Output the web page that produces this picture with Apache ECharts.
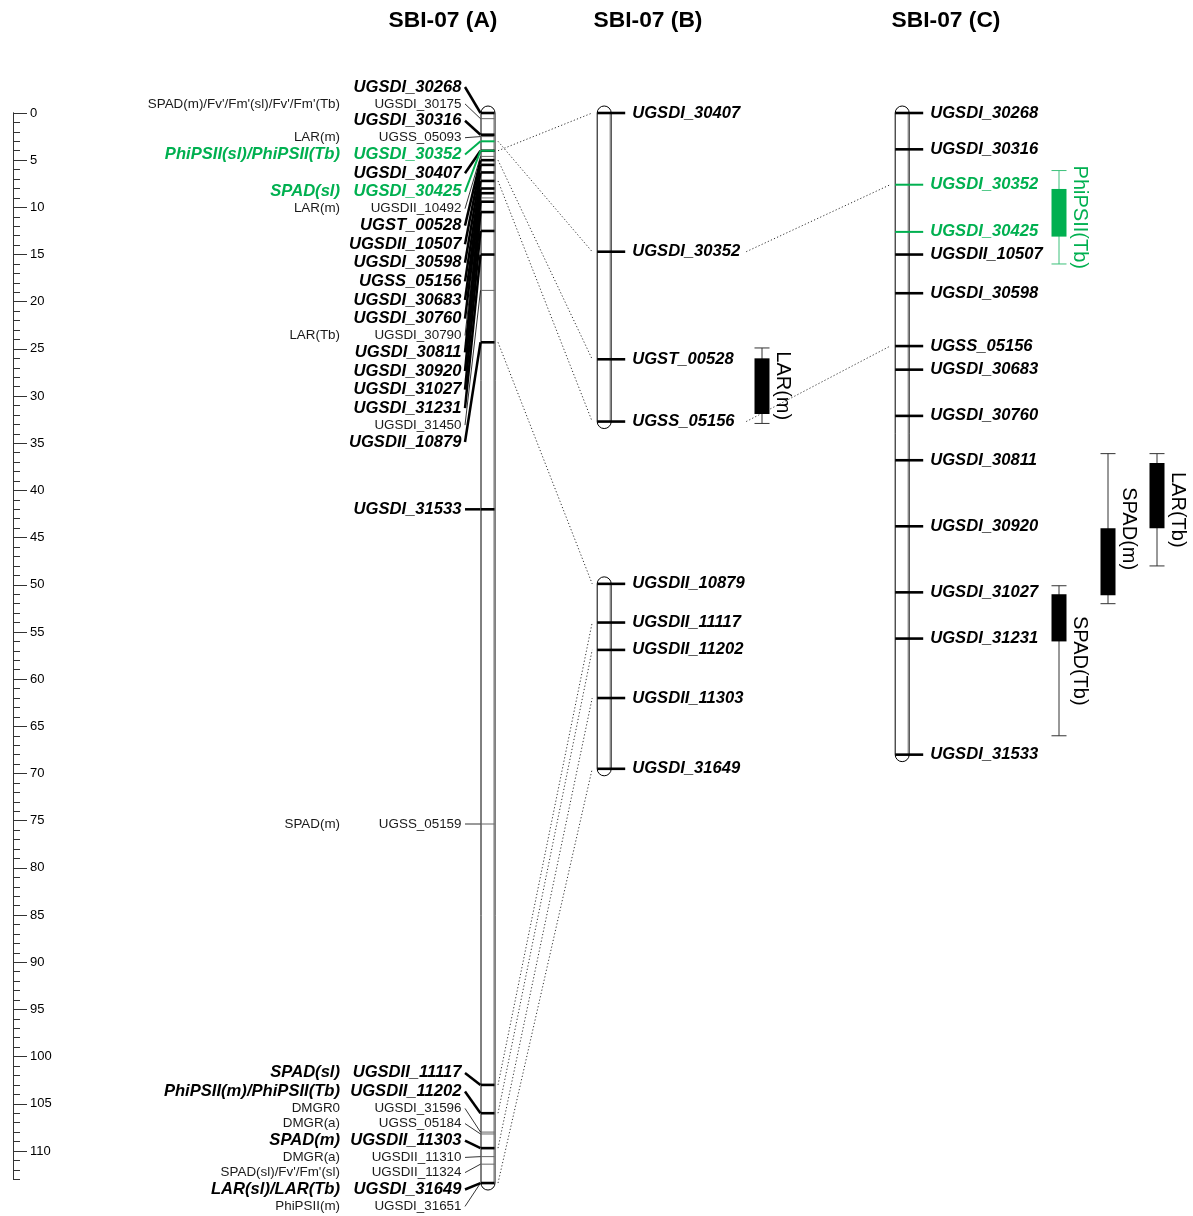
<!DOCTYPE html>
<html><head><meta charset="utf-8">
<script src="https://cdn.jsdelivr.net/npm/echarts@6/dist/echarts.min.js"></script>
<style>html,body{margin:0;padding:0;background:#fff}#c{width:1193px;height:1216px}</style>
</head><body><div id="c"></div>
<script>
// ================= DATA =================
const titles = ['SBI-07 (A)', 'SBI-07 (B)', 'SBI-07 (C)'];

// Chromosome A (cM)
const aMarkers = ['UGSDI_30268','UGSDI_30175','UGSDI_30316','UGSS_05093','UGSDI_30352','UGSDI_30407','UGSDI_30425','UGSDII_10492','UGST_00528','UGSDII_10507','UGSDI_30598','UGSS_05156','UGSDI_30683','UGSDI_30760','UGSDI_30790','UGSDI_30811','UGSDI_30920','UGSDI_31027','UGSDI_31231','UGSDI_31450','UGSDII_10879','UGSDI_31533','UGSS_05159','UGSDII_11117','UGSDII_11202','UGSDI_31596','UGSS_05184','UGSDII_11303','UGSDII_11310','UGSDII_11324','UGSDI_31649','UGSDI_31651'];
const aPos = [0.0,0.6,2.3,2.5,3.0,4.0,4.0,4.6,5.0,5.5,6.3,7.2,8.0,8.5,9.0,9.4,10.5,12.5,15.0,18.8,24.3,42.0,75.35,103.0,106.0,108.0,108.2,109.7,110.6,111.4,113.4,113.4];
const aTraits = ['',"SPAD(m)/Fv'/Fm'(sl)/Fv'/Fm'(Tb)",'','LAR(m)','PhiPSII(sl)/PhiPSII(Tb)','','SPAD(sl)','LAR(m)','','','','','','','LAR(Tb)','','','','','','','','SPAD(m)','SPAD(sl)','PhiPSII(m)/PhiPSII(Tb)','DMGR0','DMGR(a)','SPAD(m)','DMGR(a)',"SPAD(sl)/Fv'/Fm'(sl)",'LAR(sl)/LAR(Tb)','PhiPSII(m)'];

// Chromosome B (two linkage segments)
const bMarkers = ['UGSDI_30407','UGSDI_30352','UGST_00528','UGSS_05156','UGSDII_10879','UGSDII_11117','UGSDII_11202','UGSDII_11303','UGSDI_31649'];
const bPos = [0, 14.7, 26.1, 32.7, 49.9, 54.0, 56.9, 62.0, 69.5];
const bSegments = [[0, 3], [4, 8]];

// Chromosome C
const cMarkers = ['UGSDI_30268','UGSDI_30316','UGSDI_30352','UGSDI_30425','UGSDII_10507','UGSDI_30598','UGSS_05156','UGSDI_30683','UGSDI_30760','UGSDI_30811','UGSDI_30920','UGSDI_31027','UGSDI_31231','UGSDI_31533'];
const cPos = [0, 3.85, 7.6, 12.6, 15.0, 19.1, 24.7, 27.2, 32.1, 36.8, 43.8, 50.8, 55.7, 68.0];

// Homologous marker links
const linksAB = ['UGSDI_30407','UGSDI_30352','UGST_00528','UGSS_05156','UGSDII_10879','UGSDII_11117','UGSDII_11202','UGSDII_11303','UGSDI_31649'];
const linksBC = ['UGSDI_30352','UGSS_05156'];

// QTL intervals (cM): whisker low, box low, box high, whisker high
const qtlNames   = ['LAR(m)', 'PhiPSII(Tb)', 'SPAD(Tb)', 'SPAD(m)', 'LAR(Tb)'];
const qtlLow     = [24.9, 6.1, 50.1, 36.1, 36.1];
const qtlBoxLow  = [26.0, 8.05, 51.0, 44.0, 37.1];
const qtlBoxHigh = [31.9, 13.1, 56.0, 51.1, 44.0];
const qtlHigh    = [32.9, 16.0, 66.0, 52.0, 48.0];

// ================= STYLE / LAYOUT =================
// marker styles: b = bold significant, t = thin, g = green highlighted
const aStyle = ['b','t','b','t','g','b','g','t','b','b','b','b','b','b','t','b','b','b','b','t','b','b','t','b','b','t','t','b','t','t','b','t'];
const bStyle = ['b','b','b','b','b','b','b','b','b'];
const cStyle = ['b','b','g','g','b','b','b','b','b','b','b','b','b','b'];
const qtlColorKey = ['k','g','k','k','k'];
const qtlX = [762, 1059, 1059, 1108, 1157];
const PX = 9.436, Y0 = 113, W = 1193, Hh = 1216;
const xA = 488, xB = 604.2, xC = 902.2;
const titleX = [443, 648, 946];
const labelGroups = [{first: 0, last: 20, shift: -26}, {first: 23, last: 31, shift: -12}];
const GREEN = '#00b050';
const FONT = '"Liberation Sans", Arial, Helvetica, sans-serif';
const LH = {b: 18.6, g: 18.6, t: 15.2};

const labelOffset = aPos.map(() => null);
labelGroups.forEach(g => {
  let off = 0;
  for (let i = g.first; i <= g.last; i++) {
    if (i > g.first) off += (LH[aStyle[i - 1]] + LH[aStyle[i]]) / 2;
    labelOffset[i] = {g: g, off: off};
  }
});

function colorOf(s) { return s === 'g' ? GREEN : (s === 't' ? '#1a1a1a' : '#000'); }
function fontOf(s) {
  return s === 't' ? {fontSize: 13.4, fontWeight: 'normal', fontStyle: 'normal'}
                   : {fontSize: 16.6, fontWeight: 'bold', fontStyle: 'italic'};
}
function line(x1, y1, x2, y2, stroke, w, dash) {
  return {type: 'line', shape: {x1, y1, x2, y2}, style: {stroke, lineWidth: w, lineDash: dash || null, fill: null}};
}
function text(t, x, y, align, s, extra) {
  return {type: 'text', style: Object.assign({text: t, x, y, align, verticalAlign: 'middle', fontFamily: FONT, fill: colorOf(s)}, fontOf(s), extra || {})};
}

// ---- series data built from arrays ----
const chromData = [
  [xA, aPos[0], aPos[aPos.length - 1]],
  ...bSegments.map(s => [xB, bPos[s[0]], bPos[s[1]]]),
  [xC, cPos[0], cPos[cPos.length - 1]]
];
const styleCode = {b: 0, t: 1, g: 2};
const tickData = [];
aPos.forEach((p, i) => tickData.push([xA, p, styleCode[aStyle[i]], 0]));
bPos.forEach((p, i) => tickData.push([xB, p, styleCode[bStyle[i]], 1]));
cPos.forEach((p, i) => tickData.push([xC, p, styleCode[cStyle[i]], 1]));
tickData.sort((u, v) => [1, 0, 2].indexOf(u[2]) - [1, 0, 2].indexOf(v[2]));

const aLabelData = aPos.map((p, i) => [xA, p, i]);
const bcLabelData = bPos.map((p, i) => [xB, p, i, 1]).concat(cPos.map((p, i) => [xC, p, i, 2]));

const linkData = linksAB.map(n => [xA + 10, aPos[aMarkers.indexOf(n)], xB - 12, bPos[bMarkers.indexOf(n)]])
  .concat(linksBC.map(n => [xB + 142, bPos[bMarkers.indexOf(n)], xC - 12, cPos[cMarkers.indexOf(n)]]));

const qtlData = qtlNames.map((n, i) => [qtlX[i], qtlLow[i], qtlBoxLow[i], qtlBoxHigh[i], qtlHigh[i], i]);

// ================= CHART =================
const chart = echarts.init(document.getElementById('c'), null, {renderer: 'canvas'});
const axisColor = '#333';
const option = {
  animation: false,
  backgroundColor: '#fff',
  grid: [
    {left: 0, top: 0, width: W, height: Hh, outerBoundsMode: 'none'},
    {left: 13, top: Y0, width: 40, height: 110 * PX, outerBoundsMode: 'none'},
    {left: 13, top: Y0, width: 40, height: 113 * PX, outerBoundsMode: 'none'}
  ],
  xAxis: [
    {gridIndex: 0, type: 'value', min: 0, max: W, show: false},
    {gridIndex: 1, type: 'value', min: 0, max: 1, show: false},
    {gridIndex: 2, type: 'value', min: 0, max: 1, show: false}
  ],
  yAxis: [
    {gridIndex: 0, type: 'value', min: -Y0 / PX, max: (Hh - Y0) / PX, inverse: true, show: false},
    {gridIndex: 1, type: 'value', min: 0, max: 110, interval: 5, inverse: true, position: 'left',
      axisLine: {show: true, lineStyle: {color: axisColor, width: 1}},
      axisTick: {show: true, inside: true, length: 14, lineStyle: {color: axisColor, width: 1}},
      axisLabel: {show: true, inside: true, margin: 17, fontSize: 13, color: '#000', fontFamily: FONT},
      splitLine: {show: false}},
    {gridIndex: 2, type: 'value', min: 0, max: 113, interval: 1, inverse: true, position: 'left',
      axisLine: {show: true, lineStyle: {color: axisColor, width: 1}},
      axisTick: {show: true, inside: true, length: 7, lineStyle: {color: axisColor, width: 1}},
      axisLabel: {show: false}, splitLine: {show: false}}
  ],
  graphic: titles.map((t, i) => ({
    type: 'text', x: titleX[i], y: 21,
    style: {text: t, align: 'center', verticalAlign: 'middle', fontSize: 22.8, fontWeight: 'bold', fontFamily: FONT, fill: '#000'}
  })),
  series: [
    {type: 'scatter', xAxisIndex: 1, yAxisIndex: 1, data: []},
    {type: 'scatter', xAxisIndex: 2, yAxisIndex: 2, data: []},
    // dotted links
    {type: 'custom', xAxisIndex: 0, yAxisIndex: 0, z: 1, silent: true, clip: false, data: linkData,
      renderItem: (params, api) => {
        const p1 = api.coord([api.value(0), api.value(1)]);
        const p2 = api.coord([api.value(2), api.value(3)]);
        return line(p1[0], p1[1], p2[0], p2[1], '#333', 1, [1.2, 2.2]);
      }},
    // chromosomes
    {type: 'custom', xAxisIndex: 0, yAxisIndex: 0, z: 2, silent: true, clip: false, data: chromData,
      renderItem: (params, api) => {
        const p1 = api.coord([api.value(0), api.value(1)]);
        const p2 = api.coord([api.value(0), api.value(2)]);
        return {type: 'group', children: [
          {type: 'rect', shape: {x: p1[0] - 7, y: p1[1] - 7, width: 14, height: p2[1] - p1[1] + 14, r: 7},
            style: {fill: '#fff', stroke: '#000', lineWidth: 1}},
          line(p1[0] + 6.2, p1[1], p1[0] + 6.2, p2[1], '#8a8a8a', 1.6)
        ]};
      }},
    // ticks
    {type: 'custom', xAxisIndex: 0, yAxisIndex: 0, z: 3, silent: true, clip: false, data: tickData,
      renderItem: (params, api) => {
        const p = api.coord([api.value(0), api.value(1)]);
        const k = api.value(2), wide = api.value(3);
        const stroke = k === 0 ? '#000' : (k === 1 ? '#666' : GREEN);
        const lw = k === 0 ? 2.6 : (k === 1 ? 1 : 2);
        return line(p[0] - 7, p[1], wide ? p[0] + 21 : p[0] + 6.5, p[1], stroke, lw);
      }},
    // A labels with connectors
    {type: 'custom', xAxisIndex: 0, yAxisIndex: 0, z: 4, silent: true, clip: false, data: aLabelData,
      renderItem: (params, api) => {
        const i = api.value(2);
        const p = api.coord([api.value(0), api.value(1)]);
        let ly = p[1];
        const lo = labelOffset[i];
        if (lo) ly = api.coord([0, aPos[lo.g.first]])[1] + lo.g.shift + lo.off;
        const s = aStyle[i];
        const cs = s === 't' ? '#000' : colorOf(s);
        const lw = s === 't' ? 0.8 : (s === 'g' ? 2 : 2.5);
        const ch = [line(p[0] - 23, ly, p[0] - 7.5, p[1], cs, lw)];
        ch.push(text(aMarkers[i], p[0] - 26.5, ly, 'right', s));
        if (aTraits[i]) ch.push(text(aTraits[i], 340, ly, 'right', s));
        return {type: 'group', children: ch};
      }},
    // B and C labels
    {type: 'custom', xAxisIndex: 0, yAxisIndex: 0, z: 4, silent: true, clip: false, data: bcLabelData,
      renderItem: (params, api) => {
        const p = api.coord([api.value(0), api.value(1)]);
        const i = api.value(2), c = api.value(3);
        const name = c === 1 ? bMarkers[i] : cMarkers[i];
        const s = c === 1 ? bStyle[i] : cStyle[i];
        return text(name, p[0] + 28, p[1], 'left', s);
      }},
    // QTL boxes
    {type: 'custom', xAxisIndex: 0, yAxisIndex: 0, z: 4, silent: true, clip: false, data: qtlData,
      renderItem: (params, api) => {
        const x = api.value(0), i = api.value(5);
        const pl = api.coord([x, api.value(1)]), pbl = api.coord([x, api.value(2)]);
        const pbh = api.coord([x, api.value(3)]), ph = api.coord([x, api.value(4)]);
        const col = qtlColorKey[i] === 'g' ? GREEN : '#000';
        const wcol = qtlColorKey[i] === 'g' ? '#3cc07a' : '#333';
        const px = pl[0];
        return {type: 'group', children: [
          line(px, pl[1], px, ph[1], wcol, 1),
          line(px - 7.5, pl[1], px + 7.5, pl[1], wcol, 1),
          line(px - 7.5, ph[1], px + 7.5, ph[1], wcol, 1),
          {type: 'rect', shape: {x: px - 7.5, y: pbl[1], width: 15, height: pbh[1] - pbl[1]}, style: {fill: col, stroke: null}},
          {type: 'text', x: px + 21, y: (pl[1] + ph[1]) / 2, rotation: -Math.PI / 2,
            style: {text: qtlNames[i], x: 0, y: 0, align: 'center', verticalAlign: 'middle', fontSize: 20, fontFamily: FONT, fill: col}}
        ]};
      }}
  ]
};
chart.setOption(option);
</script>
</body></html>
